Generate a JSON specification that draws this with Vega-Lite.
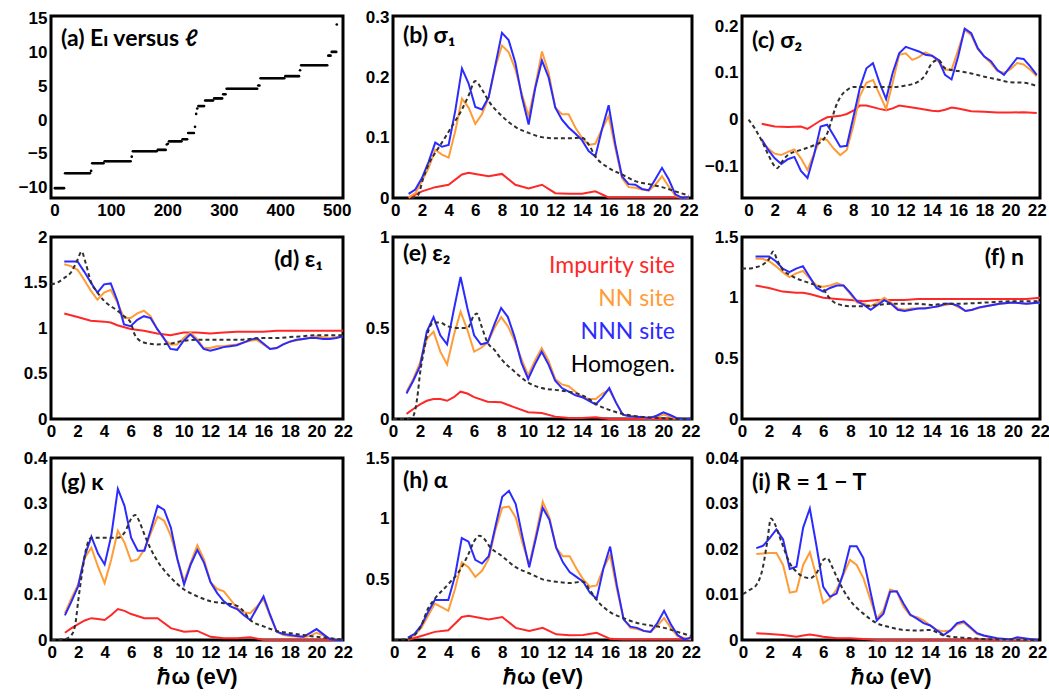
{
"$schema": "https://vega.github.io/schema/vega-lite/v6.json",
"background": "white",
"padding": {"left": 16, "top": 6, "right": 5, "bottom": 2},
"bounds": "flush",
"columns": 3,
"spacing": {"row": 39, "column": 50},
"config": {
  "view": {"stroke": "black", "strokeWidth": 3},
  "axis": {"labelFont": "Liberation Sans", "labelFontSize": 17, "labelFontWeight": "bold", "labelColor": "black", "domain": false, "ticks": false, "grid": false, "labelPadding": 4, "labelFlush": false, "labelOverlap": false, "titleFont": "Liberation Sans", "titleFontSize": 22, "titleFontWeight": "bold", "titleColor": "black", "titlePadding": 6},
  "title": {"font": "Lato, DejaVu Sans", "fontSize": 23, "fontWeight": "bold", "color": "black", "anchor": "start", "frame": "group", "baseline": "top", "dx": 10},
  "line": {"strokeWidth": 2}
},
"resolve": {"scale": {"color": "independent"}, "legend": {"color": "independent"}},
"datasets": {
"a": [{"l":1,"E":-10.05},{"l":3,"E":-10.05},{"l":5,"E":-10.05},{"l":7,"E":-10.05},{"l":9,"E":-10.05},{"l":11,"E":-10.05},{"l":13,"E":-10.05},{"l":15,"E":-10.05},{"l":17,"E":-10.05},
{"l":19,"E":-7.85},{"l":21,"E":-7.85},{"l":23,"E":-7.85},{"l":25,"E":-7.85},{"l":27,"E":-7.85},{"l":29,"E":-7.85},{"l":31,"E":-7.85},{"l":33,"E":-7.85},{"l":35,"E":-7.85},{"l":37,"E":-7.85},{"l":39,"E":-7.85},{"l":41,"E":-7.85},{"l":43,"E":-7.85},{"l":45,"E":-7.85},{"l":47,"E":-7.85},{"l":49,"E":-7.85},{"l":51,"E":-7.85},{"l":53,"E":-7.85},{"l":55,"E":-7.85},{"l":57,"E":-7.85},{"l":59,"E":-7.85},{"l":61,"E":-7.85},{"l":63,"E":-7.85},{"l":65,"E":-7.5},
{"l":67,"E":-6.37},{"l":69,"E":-6.37},{"l":71,"E":-6.37},{"l":73,"E":-6.37},{"l":75,"E":-6.37},{"l":77,"E":-6.37},{"l":79,"E":-6.37},{"l":81,"E":-6.37},{"l":83,"E":-6.37},{"l":85,"E":-6.37},{"l":87,"E":-6.37},
{"l":89,"E":-6.08},{"l":91,"E":-6.08},{"l":93,"E":-6.08},{"l":95,"E":-6.08},{"l":97,"E":-6.08},{"l":99,"E":-6.08},{"l":101,"E":-6.08},{"l":103,"E":-6.08},{"l":105,"E":-6.08},{"l":107,"E":-6.08},{"l":109,"E":-6.08},{"l":111,"E":-6.08},{"l":113,"E":-6.08},{"l":115,"E":-6.08},{"l":117,"E":-6.08},{"l":119,"E":-6.08},{"l":121,"E":-6.08},{"l":123,"E":-6.08},{"l":125,"E":-6.08},{"l":127,"E":-6.08},{"l":129,"E":-6.08},{"l":131,"E":-6.08},{"l":133,"E":-6.08},{"l":135,"E":-6.08},{"l":137,"E":-5.4},
{"l":139,"E":-4.61},{"l":141,"E":-4.61},{"l":143,"E":-4.61},{"l":145,"E":-4.61},{"l":147,"E":-4.61},{"l":149,"E":-4.61},{"l":151,"E":-4.61},{"l":153,"E":-4.61},{"l":155,"E":-4.61},{"l":157,"E":-4.61},{"l":159,"E":-4.61},{"l":161,"E":-4.61},{"l":163,"E":-4.61},{"l":165,"E":-4.61},{"l":167,"E":-4.61},{"l":169,"E":-4.61},{"l":171,"E":-4.61},{"l":173,"E":-4.61},{"l":175,"E":-4.61},{"l":177,"E":-4.61},{"l":179,"E":-4.61},{"l":181,"E":-4.61},
{"l":183,"E":-4.41},{"l":185,"E":-4.41},{"l":187,"E":-4.41},{"l":189,"E":-4.41},{"l":191,"E":-4.41},{"l":193,"E":-4.41},{"l":195,"E":-4.41},{"l":197,"E":-4.41},{"l":199,"E":-3.6},{"l":201,"E":-3.5},
{"l":203,"E":-3.14},{"l":205,"E":-3.14},{"l":207,"E":-3.14},{"l":209,"E":-3.14},{"l":211,"E":-3.14},{"l":213,"E":-3.14},{"l":215,"E":-3.14},{"l":217,"E":-3.14},{"l":219,"E":-3.14},{"l":221,"E":-3.14},{"l":223,"E":-3.14},{"l":225,"E":-3.14},
{"l":227,"E":-2.84},{"l":229,"E":-2.84},{"l":231,"E":-2.84},{"l":233,"E":-2.84},{"l":235,"E":-2.84},
{"l":237,"E":-1.91},{"l":239,"E":-1.91},{"l":241,"E":-1.91},{"l":243,"E":-1.91},{"l":245,"E":-1.91},{"l":247,"E":-1.91},{"l":249,"E":-1.0},{"l":251,"E":0.9},{"l":253,"E":1.7},
{"l":255,"E":2.06},{"l":257,"E":2.06},{"l":259,"E":2.06},{"l":261,"E":2.06},{"l":263,"E":2.06},{"l":265,"E":2.06},
{"l":267,"E":2.89},{"l":269,"E":2.89},{"l":271,"E":2.89},{"l":273,"E":2.89},{"l":275,"E":2.89},{"l":277,"E":2.89},{"l":279,"E":2.89},{"l":281,"E":2.89},
{"l":283,"E":3.19},{"l":285,"E":3.19},{"l":287,"E":3.19},{"l":289,"E":3.19},{"l":291,"E":3.19},{"l":293,"E":3.19},{"l":295,"E":3.19},{"l":297,"E":3.19},
{"l":299,"E":3.8},{"l":301,"E":3.8},{"l":303,"E":3.8},
{"l":305,"E":4.61},{"l":307,"E":4.61},{"l":309,"E":4.61},{"l":311,"E":4.61},{"l":313,"E":4.61},{"l":315,"E":4.61},{"l":317,"E":4.61},{"l":319,"E":4.61},{"l":321,"E":4.61},{"l":323,"E":4.61},{"l":325,"E":4.61},{"l":327,"E":4.61},{"l":329,"E":4.61},{"l":331,"E":4.61},{"l":333,"E":4.61},{"l":335,"E":4.61},{"l":337,"E":4.61},{"l":339,"E":4.61},{"l":341,"E":4.61},{"l":343,"E":4.61},{"l":345,"E":4.61},{"l":347,"E":4.61},{"l":349,"E":4.61},{"l":351,"E":4.61},{"l":353,"E":4.61},{"l":355,"E":4.61},{"l":357,"E":4.61},{"l":359,"E":4.61},
{"l":361,"E":5.1},{"l":363,"E":5.1},
{"l":365,"E":6.17},{"l":367,"E":6.17},{"l":369,"E":6.17},{"l":371,"E":6.17},{"l":373,"E":6.17},{"l":375,"E":6.17},{"l":377,"E":6.17},{"l":379,"E":6.17},{"l":381,"E":6.17},{"l":383,"E":6.17},{"l":385,"E":6.17},{"l":387,"E":6.17},{"l":389,"E":6.17},{"l":391,"E":6.17},{"l":393,"E":6.17},{"l":395,"E":6.17},{"l":397,"E":6.17},{"l":399,"E":6.17},{"l":401,"E":6.17},{"l":403,"E":6.17},{"l":405,"E":6.17},{"l":407,"E":6.17},
{"l":409,"E":6.47},{"l":411,"E":6.47},{"l":413,"E":6.47},{"l":415,"E":6.47},{"l":417,"E":6.47},{"l":419,"E":6.47},{"l":421,"E":6.47},{"l":423,"E":6.47},{"l":425,"E":6.47},{"l":427,"E":6.47},{"l":429,"E":6.47},{"l":431,"E":6.47},{"l":433,"E":6.47},{"l":435,"E":7.35},
{"l":437,"E":8.09},{"l":439,"E":8.09},{"l":441,"E":8.09},{"l":443,"E":8.09},{"l":445,"E":8.09},{"l":447,"E":8.09},{"l":449,"E":8.09},{"l":451,"E":8.09},{"l":453,"E":8.09},{"l":455,"E":8.09},{"l":457,"E":8.09},{"l":459,"E":8.09},{"l":461,"E":8.09},{"l":463,"E":8.09},{"l":465,"E":8.09},{"l":467,"E":8.09},{"l":469,"E":8.09},{"l":471,"E":8.09},{"l":473,"E":8.09},{"l":475,"E":8.09},{"l":477,"E":8.09},{"l":479,"E":8.09},{"l":481,"E":8.09},{"l":483,"E":8.09},
{"l":485,"E":9.5},{"l":487,"E":9.5},{"l":489,"E":9.5},{"l":491,"E":10.05},{"l":493,"E":10.05},{"l":495,"E":10.05},{"l":497,"E":10.05},{"l":499,"E":10.05},{"l":500,"E":14.1}],
"b_b": [{"x":1,"y":0.007},{"x":1.5,"y":0.014},{"x":2,"y":0.033},{"x":2.5,"y":0.06},{"x":3,"y":0.092},{"x":3.5,"y":0.085},{"x":4,"y":0.088},{"x":4.5,"y":0.145},{"x":5,"y":0.215},{"x":5.5,"y":0.19},{"x":6,"y":0.151},{"x":6.5,"y":0.147},{"x":7,"y":0.167},{"x":7.5,"y":0.22},{"x":8,"y":0.274},{"x":8.5,"y":0.262},{"x":9,"y":0.225},{"x":9.5,"y":0.167},{"x":10,"y":0.122},{"x":10.5,"y":0.183},{"x":11,"y":0.228},{"x":11.5,"y":0.2},{"x":12,"y":0.15},{"x":12.5,"y":0.13},{"x":13,"y":0.117},{"x":13.5,"y":0.107},{"x":14,"y":0.096},{"x":14.5,"y":0.078},{"x":15,"y":0.069},{"x":15.5,"y":0.114},{"x":16,"y":0.154},{"x":16.5,"y":0.089},{"x":17,"y":0.036},{"x":17.5,"y":0.023},{"x":18,"y":0.022},{"x":18.5,"y":0.015},{"x":19,"y":0.013},{"x":19.5,"y":0.031},{"x":20,"y":0.05},{"x":20.5,"y":0.031},{"x":21,"y":0.006},{"x":21.5,"y":0.0},{"x":22,"y":0.001}],
"b_o": [{"x":1,"y":0.001},{"x":1.5,"y":0.008},{"x":2,"y":0.028},{"x":2.5,"y":0.05},{"x":3,"y":0.08},{"x":3.5,"y":0.072},{"x":4,"y":0.067},{"x":4.5,"y":0.111},{"x":5,"y":0.165},{"x":5.5,"y":0.15},{"x":6,"y":0.123},{"x":6.5,"y":0.139},{"x":7,"y":0.167},{"x":7.5,"y":0.217},{"x":8,"y":0.253},{"x":8.5,"y":0.242},{"x":9,"y":0.214},{"x":9.5,"y":0.172},{"x":10,"y":0.136},{"x":10.5,"y":0.186},{"x":11,"y":0.243},{"x":11.5,"y":0.208},{"x":12,"y":0.15},{"x":12.5,"y":0.139},{"x":13,"y":0.139},{"x":13.5,"y":0.117},{"x":14,"y":0.1},{"x":14.5,"y":0.088},{"x":15,"y":0.09},{"x":15.5,"y":0.114},{"x":16,"y":0.136},{"x":16.5,"y":0.083},{"x":17,"y":0.033},{"x":17.5,"y":0.018},{"x":18,"y":0.017},{"x":18.5,"y":0.014},{"x":19,"y":0.012},{"x":19.5,"y":0.022},{"x":20,"y":0.036},{"x":20.5,"y":0.019},{"x":21,"y":0.004},{"x":21.5,"y":0.0},{"x":22,"y":0.0}],
"b_r": [{"x":1,"y":0.0},{"x":2,"y":0.011},{"x":3,"y":0.018},{"x":4,"y":0.022},{"x":5,"y":0.039},{"x":5.5,"y":0.042},{"x":6,"y":0.04},{"x":7,"y":0.036},{"x":8,"y":0.04},{"x":9,"y":0.022},{"x":10,"y":0.016},{"x":11,"y":0.022},{"x":12,"y":0.008},{"x":13,"y":0.007},{"x":14,"y":0.007},{"x":15,"y":0.011},{"x":16,"y":0.001},{"x":17,"y":0.001},{"x":18,"y":0.001},{"x":19,"y":0.001},{"x":20,"y":0.001},{"x":21,"y":0.001},{"x":22,"y":0.001}],
"b_h": [{"x":1.2,"y":0.0},{"x":1.7,"y":0.005},{"x":2.1,"y":0.033},{"x":2.5,"y":0.056},{"x":3,"y":0.075},{"x":3.5,"y":0.092},{"x":4,"y":0.11},{"x":4.5,"y":0.128},{"x":5,"y":0.147},{"x":5.5,"y":0.17},{"x":6,"y":0.194},{"x":6.5,"y":0.18},{"x":7,"y":0.161},{"x":8,"y":0.136},{"x":9,"y":0.118},{"x":10,"y":0.108},{"x":11,"y":0.101},{"x":12,"y":0.099},{"x":13,"y":0.099},{"x":14,"y":0.1},{"x":14.5,"y":0.089},{"x":15,"y":0.069},{"x":16,"y":0.05},{"x":17,"y":0.039},{"x":18,"y":0.028},{"x":19,"y":0.023},{"x":20,"y":0.018},{"x":21,"y":0.011},{"x":22,"y":0.004}],
"c_b": [{"x":1,"y":-0.042},{"x":1.5,"y":-0.065},{"x":2,"y":-0.083},{"x":2.5,"y":-0.095},{"x":3,"y":-0.085},{"x":3.5,"y":-0.08},{"x":4,"y":-0.11},{"x":4.5,"y":-0.125},{"x":5,"y":-0.076},{"x":5.5,"y":-0.015},{"x":6,"y":-0.011},{"x":6.5,"y":-0.034},{"x":7,"y":-0.058},{"x":7.5,"y":-0.056},{"x":8,"y":0.005},{"x":8.5,"y":0.068},{"x":9,"y":0.11},{"x":9.5,"y":0.121},{"x":10,"y":0.079},{"x":10.5,"y":0.044},{"x":11,"y":0.1},{"x":11.5,"y":0.142},{"x":12,"y":0.156},{"x":12.5,"y":0.151},{"x":13,"y":0.146},{"x":13.5,"y":0.139},{"x":14,"y":0.137},{"x":14.5,"y":0.128},{"x":15,"y":0.096},{"x":15.5,"y":0.086},{"x":16,"y":0.135},{"x":16.5,"y":0.195},{"x":17,"y":0.185},{"x":17.5,"y":0.153},{"x":18,"y":0.135},{"x":18.5,"y":0.125},{"x":19,"y":0.106},{"x":19.5,"y":0.096},{"x":20,"y":0.114},{"x":20.5,"y":0.132},{"x":21,"y":0.13},{"x":21.5,"y":0.114},{"x":22,"y":0.096}],
"c_o": [{"x":1,"y":-0.046},{"x":1.5,"y":-0.062},{"x":2,"y":-0.073},{"x":2.5,"y":-0.076},{"x":3,"y":-0.069},{"x":3.5,"y":-0.064},{"x":4,"y":-0.083},{"x":4.5,"y":-0.108},{"x":5,"y":-0.073},{"x":5.5,"y":-0.041},{"x":6,"y":-0.044},{"x":6.5,"y":-0.062},{"x":7,"y":-0.076},{"x":7.5,"y":-0.065},{"x":8,"y":-0.013},{"x":8.5,"y":0.051},{"x":9,"y":0.079},{"x":9.5,"y":0.085},{"x":10,"y":0.054},{"x":10.5,"y":0.023},{"x":11,"y":0.079},{"x":11.5,"y":0.139},{"x":12,"y":0.142},{"x":12.5,"y":0.128},{"x":13,"y":0.134},{"x":13.5,"y":0.144},{"x":14,"y":0.137},{"x":14.5,"y":0.125},{"x":15,"y":0.107},{"x":15.5,"y":0.107},{"x":16,"y":0.149},{"x":16.5,"y":0.192},{"x":17,"y":0.181},{"x":17.5,"y":0.151},{"x":18,"y":0.135},{"x":18.5,"y":0.121},{"x":19,"y":0.104},{"x":19.5,"y":0.1},{"x":20,"y":0.108},{"x":20.5,"y":0.121},{"x":21,"y":0.118},{"x":21.5,"y":0.107},{"x":22,"y":0.093}],
"c_r": [{"x":1,"y":-0.009},{"x":2,"y":-0.015},{"x":3,"y":-0.016},{"x":4,"y":-0.015},{"x":4.5,"y":-0.02},{"x":5,"y":-0.011},{"x":5.5,"y":-0.002},{"x":6,"y":0.005},{"x":7,"y":0.008},{"x":7.5,"y":0.012},{"x":8,"y":0.019},{"x":8.5,"y":0.03},{"x":9,"y":0.03},{"x":10,"y":0.023},{"x":10.5,"y":0.02},{"x":11,"y":0.024},{"x":11.5,"y":0.03},{"x":12,"y":0.028},{"x":13,"y":0.024},{"x":14,"y":0.019},{"x":14.5,"y":0.018},{"x":15,"y":0.021},{"x":15.5,"y":0.026},{"x":16,"y":0.024},{"x":17,"y":0.018},{"x":18,"y":0.017},{"x":19,"y":0.015},{"x":20,"y":0.015},{"x":21,"y":0.016},{"x":22,"y":0.014}],
"c_h": [{"x":0,"y":0.0},{"x":0.5,"y":-0.02},{"x":1,"y":-0.045},{"x":1.5,"y":-0.075},{"x":2,"y":-0.1},{"x":2.2,"y":-0.104},{"x":2.5,"y":-0.092},{"x":3,"y":-0.076},{"x":4,"y":-0.065},{"x":5,"y":-0.055},{"x":5.5,"y":-0.048},{"x":6,"y":-0.03},{"x":6.3,"y":-0.005},{"x":6.6,"y":0.023},{"x":7,"y":0.048},{"x":7.5,"y":0.063},{"x":8,"y":0.07},{"x":9,"y":0.07},{"x":10,"y":0.07},{"x":11,"y":0.07},{"x":12,"y":0.073},{"x":13,"y":0.082},{"x":13.5,"y":0.096},{"x":14,"y":0.121},{"x":14.5,"y":0.128},{"x":15,"y":0.11},{"x":16,"y":0.104},{"x":17,"y":0.099},{"x":18,"y":0.092},{"x":19,"y":0.086},{"x":20,"y":0.08},{"x":21,"y":0.079},{"x":22,"y":0.072}],
"d_b": [{"x":1,"y":1.73},{"x":1.5,"y":1.73},{"x":2,"y":1.73},{"x":2.5,"y":1.62},{"x":3,"y":1.5},{"x":3.5,"y":1.39},{"x":4,"y":1.48},{"x":4.5,"y":1.49},{"x":5,"y":1.3},{"x":5.5,"y":1.04},{"x":6,"y":1.02},{"x":6.5,"y":1.09},{"x":7,"y":1.13},{"x":7.5,"y":1.11},{"x":8,"y":0.99},{"x":8.5,"y":0.89},{"x":9,"y":0.77},{"x":9.5,"y":0.76},{"x":10,"y":0.86},{"x":10.5,"y":0.93},{"x":11,"y":0.86},{"x":11.5,"y":0.77},{"x":12,"y":0.75},{"x":12.5,"y":0.77},{"x":13,"y":0.79},{"x":13.5,"y":0.8},{"x":14,"y":0.81},{"x":14.5,"y":0.84},{"x":15,"y":0.87},{"x":15.5,"y":0.89},{"x":16,"y":0.83},{"x":16.5,"y":0.77},{"x":17,"y":0.78},{"x":17.5,"y":0.82},{"x":18,"y":0.85},{"x":18.5,"y":0.87},{"x":19,"y":0.88},{"x":19.5,"y":0.89},{"x":20,"y":0.89},{"x":20.5,"y":0.88},{"x":21,"y":0.88},{"x":21.5,"y":0.89},{"x":22,"y":0.91}],
"d_o": [{"x":1,"y":1.7},{"x":1.5,"y":1.68},{"x":2,"y":1.64},{"x":2.5,"y":1.53},{"x":3,"y":1.41},{"x":3.5,"y":1.31},{"x":4,"y":1.39},{"x":4.5,"y":1.42},{"x":5,"y":1.28},{"x":5.5,"y":1.11},{"x":6,"y":1.11},{"x":6.5,"y":1.16},{"x":7,"y":1.19},{"x":7.5,"y":1.13},{"x":8,"y":0.99},{"x":8.5,"y":0.88},{"x":9,"y":0.82},{"x":9.5,"y":0.82},{"x":10,"y":0.89},{"x":10.5,"y":0.95},{"x":11,"y":0.88},{"x":11.5,"y":0.78},{"x":12,"y":0.78},{"x":12.5,"y":0.8},{"x":13,"y":0.8},{"x":13.5,"y":0.81},{"x":14,"y":0.82},{"x":14.5,"y":0.84},{"x":15,"y":0.86},{"x":15.5,"y":0.87},{"x":16,"y":0.82},{"x":16.5,"y":0.77},{"x":17,"y":0.78},{"x":17.5,"y":0.82},{"x":18,"y":0.85},{"x":19,"y":0.88},{"x":20,"y":0.91},{"x":21,"y":0.89},{"x":22,"y":0.91}],
"d_r": [{"x":1,"y":1.16},{"x":2,"y":1.12},{"x":3,"y":1.08},{"x":4,"y":1.07},{"x":4.5,"y":1.06},{"x":5,"y":1.03},{"x":6,"y":0.99},{"x":7,"y":0.97},{"x":8,"y":0.94},{"x":9,"y":0.92},{"x":10,"y":0.95},{"x":11,"y":0.95},{"x":12,"y":0.94},{"x":13,"y":0.95},{"x":14,"y":0.96},{"x":15,"y":0.96},{"x":16,"y":0.96},{"x":17,"y":0.97},{"x":18,"y":0.97},{"x":19,"y":0.97},{"x":20,"y":0.97},{"x":21,"y":0.97},{"x":22,"y":0.97}],
"d_h": [{"x":0,"y":1.48},{"x":0.5,"y":1.5},{"x":1,"y":1.55},{"x":1.5,"y":1.61},{"x":2,"y":1.75},{"x":2.3,"y":1.84},{"x":2.6,"y":1.72},{"x":3,"y":1.51},{"x":3.5,"y":1.39},{"x":4,"y":1.3},{"x":5,"y":1.19},{"x":5.5,"y":1.13},{"x":6,"y":1.06},{"x":6.3,"y":0.93},{"x":6.7,"y":0.86},{"x":7,"y":0.84},{"x":8,"y":0.82},{"x":9,"y":0.83},{"x":10,"y":0.86},{"x":11,"y":0.87},{"x":12,"y":0.87},{"x":13,"y":0.87},{"x":14,"y":0.87},{"x":15,"y":0.88},{"x":16,"y":0.89},{"x":17,"y":0.89},{"x":18,"y":0.9},{"x":19,"y":0.91},{"x":20,"y":0.92},{"x":21,"y":0.92},{"x":22,"y":0.92}],
"e_b": [{"x":1,"y":0.14},{"x":1.5,"y":0.21},{"x":2,"y":0.29},{"x":2.5,"y":0.48},{"x":3,"y":0.56},{"x":3.5,"y":0.46},{"x":4,"y":0.41},{"x":4.5,"y":0.6},{"x":5,"y":0.78},{"x":5.5,"y":0.61},{"x":6,"y":0.46},{"x":6.5,"y":0.41},{"x":7,"y":0.42},{"x":7.5,"y":0.52},{"x":8,"y":0.61},{"x":8.5,"y":0.56},{"x":9,"y":0.45},{"x":9.5,"y":0.31},{"x":10,"y":0.22},{"x":10.5,"y":0.3},{"x":11,"y":0.37},{"x":11.5,"y":0.3},{"x":12,"y":0.21},{"x":12.5,"y":0.17},{"x":13,"y":0.15},{"x":13.5,"y":0.13},{"x":14,"y":0.12},{"x":14.5,"y":0.1},{"x":15,"y":0.08},{"x":15.5,"y":0.12},{"x":16,"y":0.17},{"x":16.5,"y":0.09},{"x":17,"y":0.024},{"x":17.5,"y":0.015},{"x":18,"y":0.013},{"x":18.5,"y":0.01},{"x":19,"y":0.006},{"x":19.5,"y":0.018},{"x":20,"y":0.037},{"x":20.5,"y":0.022},{"x":21,"y":0.004},{"x":21.5,"y":0.0},{"x":22,"y":0.0}],
"e_o": [{"x":1,"y":0.15},{"x":1.5,"y":0.22},{"x":2,"y":0.31},{"x":2.5,"y":0.44},{"x":3,"y":0.48},{"x":3.5,"y":0.37},{"x":4,"y":0.3},{"x":4.5,"y":0.46},{"x":5,"y":0.59},{"x":5.5,"y":0.49},{"x":6,"y":0.37},{"x":6.5,"y":0.39},{"x":7,"y":0.42},{"x":7.5,"y":0.5},{"x":8,"y":0.56},{"x":8.5,"y":0.51},{"x":9,"y":0.43},{"x":9.5,"y":0.33},{"x":10,"y":0.24},{"x":10.5,"y":0.32},{"x":11,"y":0.39},{"x":11.5,"y":0.32},{"x":12,"y":0.22},{"x":12.5,"y":0.19},{"x":13,"y":0.18},{"x":13.5,"y":0.15},{"x":14,"y":0.12},{"x":14.5,"y":0.11},{"x":15,"y":0.11},{"x":15.5,"y":0.14},{"x":16,"y":0.16},{"x":16.5,"y":0.09},{"x":17,"y":0.024},{"x":17.5,"y":0.015},{"x":18,"y":0.013},{"x":19,"y":0.004},{"x":19.5,"y":0.01},{"x":20,"y":0.024},{"x":20.5,"y":0.013},{"x":21,"y":0.002},{"x":22,"y":0.0}],
"e_r": [{"x":1,"y":0.028},{"x":1.5,"y":0.055},{"x":2,"y":0.08},{"x":2.5,"y":0.1},{"x":3,"y":0.11},{"x":3.5,"y":0.11},{"x":4,"y":0.1},{"x":4.5,"y":0.12},{"x":5,"y":0.15},{"x":5.5,"y":0.14},{"x":6,"y":0.12},{"x":7,"y":0.095},{"x":8,"y":0.092},{"x":9,"y":0.064},{"x":10,"y":0.037},{"x":11,"y":0.033},{"x":12,"y":0.013},{"x":13,"y":0.006},{"x":14,"y":0.006},{"x":15,"y":0.009},{"x":16,"y":0.0},{"x":17,"y":0.0},{"x":18,"y":0.0},{"x":19,"y":0.0},{"x":20,"y":0.0},{"x":21,"y":0.0},{"x":22,"y":0.0}],
"e_h": [{"x":0,"y":0.0},{"x":1,"y":0.0},{"x":1.5,"y":0.018},{"x":1.8,"y":0.12},{"x":2,"y":0.25},{"x":2.3,"y":0.38},{"x":2.6,"y":0.48},{"x":3,"y":0.53},{"x":3.5,"y":0.53},{"x":4,"y":0.51},{"x":5,"y":0.5},{"x":5.5,"y":0.5},{"x":6,"y":0.57},{"x":6.2,"y":0.58},{"x":6.5,"y":0.52},{"x":7,"y":0.42},{"x":7.5,"y":0.38},{"x":8,"y":0.33},{"x":9,"y":0.26},{"x":10,"y":0.2},{"x":11,"y":0.17},{"x":12,"y":0.16},{"x":13,"y":0.15},{"x":14,"y":0.13},{"x":14.5,"y":0.11},{"x":15,"y":0.083},{"x":16,"y":0.05},{"x":17,"y":0.028},{"x":18,"y":0.015},{"x":19,"y":0.009},{"x":20,"y":0.004},{"x":21,"y":0.0},{"x":22,"y":0.0}],
"f_b": [{"x":1,"y":1.34},{"x":1.5,"y":1.34},{"x":2,"y":1.34},{"x":2.5,"y":1.3},{"x":3,"y":1.24},{"x":3.5,"y":1.21},{"x":4,"y":1.24},{"x":4.5,"y":1.26},{"x":5,"y":1.17},{"x":5.5,"y":1.08},{"x":6,"y":1.05},{"x":6.5,"y":1.08},{"x":7,"y":1.1},{"x":7.5,"y":1.1},{"x":8,"y":1.04},{"x":8.5,"y":0.97},{"x":9,"y":0.94},{"x":9.5,"y":0.9},{"x":10,"y":0.94},{"x":10.5,"y":0.98},{"x":11,"y":0.95},{"x":11.5,"y":0.9},{"x":12,"y":0.89},{"x":12.5,"y":0.9},{"x":13,"y":0.91},{"x":13.5,"y":0.91},{"x":14,"y":0.92},{"x":14.5,"y":0.93},{"x":15,"y":0.95},{"x":15.5,"y":0.95},{"x":16,"y":0.93},{"x":16.5,"y":0.89},{"x":17,"y":0.9},{"x":17.5,"y":0.92},{"x":18,"y":0.93},{"x":19,"y":0.95},{"x":20,"y":0.96},{"x":21,"y":0.95},{"x":22,"y":0.96}],
"f_o": [{"x":1,"y":1.32},{"x":1.5,"y":1.32},{"x":2,"y":1.3},{"x":2.5,"y":1.26},{"x":3,"y":1.21},{"x":3.5,"y":1.17},{"x":4,"y":1.2},{"x":4.5,"y":1.22},{"x":5,"y":1.16},{"x":5.5,"y":1.1},{"x":6,"y":1.09},{"x":6.5,"y":1.1},{"x":7,"y":1.12},{"x":7.5,"y":1.1},{"x":8,"y":1.03},{"x":8.5,"y":0.96},{"x":9,"y":0.95},{"x":9.5,"y":0.93},{"x":10,"y":0.96},{"x":10.5,"y":1.0},{"x":11,"y":0.96},{"x":11.5,"y":0.91},{"x":12,"y":0.9},{"x":12.5,"y":0.91},{"x":13,"y":0.91},{"x":14,"y":0.92},{"x":15,"y":0.94},{"x":15.5,"y":0.95},{"x":16,"y":0.92},{"x":16.5,"y":0.89},{"x":17,"y":0.9},{"x":18,"y":0.93},{"x":19,"y":0.95},{"x":20,"y":0.96},{"x":21,"y":0.95},{"x":22,"y":0.96}],
"f_r": [{"x":1,"y":1.1},{"x":2,"y":1.08},{"x":3,"y":1.05},{"x":4,"y":1.04},{"x":4.5,"y":1.04},{"x":5,"y":1.03},{"x":6,"y":1.0},{"x":7,"y":0.99},{"x":8,"y":0.98},{"x":9,"y":0.97},{"x":10,"y":0.98},{"x":11,"y":0.98},{"x":12,"y":0.98},{"x":13,"y":0.99},{"x":14,"y":0.99},{"x":15,"y":0.99},{"x":16,"y":0.99},{"x":17,"y":0.99},{"x":18,"y":0.99},{"x":19,"y":0.99},{"x":20,"y":0.99},{"x":21,"y":0.99},{"x":22,"y":1.0}],
"f_h": [{"x":0,"y":1.24},{"x":0.5,"y":1.24},{"x":1,"y":1.25},{"x":1.5,"y":1.27},{"x":2,"y":1.32},{"x":2.3,"y":1.38},{"x":2.6,"y":1.31},{"x":3,"y":1.23},{"x":3.5,"y":1.19},{"x":4,"y":1.16},{"x":5,"y":1.12},{"x":5.5,"y":1.1},{"x":6,"y":1.07},{"x":6.3,"y":1.02},{"x":6.7,"y":0.97},{"x":7,"y":0.95},{"x":8,"y":0.93},{"x":9,"y":0.93},{"x":10,"y":0.94},{"x":11,"y":0.95},{"x":12,"y":0.95},{"x":13,"y":0.95},{"x":14,"y":0.94},{"x":15,"y":0.95},{"x":16,"y":0.95},{"x":18,"y":0.96},{"x":20,"y":0.97},{"x":22,"y":0.97}],
"g_b": [{"x":1,"y":0.054},{"x":1.5,"y":0.085},{"x":2,"y":0.118},{"x":2.5,"y":0.185},{"x":3,"y":0.227},{"x":3.5,"y":0.19},{"x":4,"y":0.166},{"x":4.5,"y":0.229},{"x":5,"y":0.332},{"x":5.5,"y":0.295},{"x":6,"y":0.225},{"x":6.5,"y":0.196},{"x":7,"y":0.196},{"x":7.5,"y":0.244},{"x":8,"y":0.295},{"x":8.5,"y":0.286},{"x":9,"y":0.247},{"x":9.5,"y":0.177},{"x":10,"y":0.122},{"x":10.5,"y":0.166},{"x":11,"y":0.198},{"x":11.5,"y":0.17},{"x":12,"y":0.127},{"x":12.5,"y":0.103},{"x":13,"y":0.085},{"x":13.5,"y":0.074},{"x":14,"y":0.068},{"x":14.5,"y":0.055},{"x":15,"y":0.044},{"x":15.5,"y":0.07},{"x":16,"y":0.096},{"x":16.5,"y":0.055},{"x":17,"y":0.018},{"x":17.5,"y":0.013},{"x":18,"y":0.011},{"x":18.5,"y":0.009},{"x":19,"y":0.007},{"x":19.5,"y":0.015},{"x":20,"y":0.024},{"x":20.5,"y":0.013},{"x":21,"y":0.002},{"x":21.5,"y":0.0},{"x":22,"y":0.0}],
"g_o": [{"x":1,"y":0.059},{"x":1.5,"y":0.092},{"x":2,"y":0.122},{"x":2.5,"y":0.181},{"x":3,"y":0.203},{"x":3.5,"y":0.161},{"x":4,"y":0.125},{"x":4.5,"y":0.177},{"x":5,"y":0.24},{"x":5.5,"y":0.214},{"x":6,"y":0.173},{"x":6.5,"y":0.177},{"x":7,"y":0.199},{"x":7.5,"y":0.236},{"x":8,"y":0.271},{"x":8.5,"y":0.262},{"x":9,"y":0.229},{"x":9.5,"y":0.177},{"x":10,"y":0.129},{"x":10.5,"y":0.17},{"x":11,"y":0.208},{"x":11.5,"y":0.177},{"x":12,"y":0.127},{"x":12.5,"y":0.112},{"x":13,"y":0.107},{"x":13.5,"y":0.089},{"x":14,"y":0.07},{"x":14.5,"y":0.061},{"x":15,"y":0.059},{"x":15.5,"y":0.074},{"x":16,"y":0.09},{"x":16.5,"y":0.052},{"x":17,"y":0.018},{"x":17.5,"y":0.011},{"x":18,"y":0.009},{"x":19,"y":0.006},{"x":19.5,"y":0.009},{"x":20,"y":0.016},{"x":20.5,"y":0.01},{"x":21,"y":0.003},{"x":22,"y":0.0}],
"g_r": [{"x":1,"y":0.016},{"x":1.5,"y":0.026},{"x":2,"y":0.035},{"x":2.5,"y":0.043},{"x":3,"y":0.048},{"x":3.5,"y":0.046},{"x":4,"y":0.044},{"x":4.5,"y":0.055},{"x":5,"y":0.068},{"x":5.5,"y":0.064},{"x":6,"y":0.057},{"x":7,"y":0.048},{"x":8,"y":0.048},{"x":9,"y":0.026},{"x":10,"y":0.018},{"x":11,"y":0.02},{"x":12,"y":0.007},{"x":13,"y":0.004},{"x":14,"y":0.004},{"x":15,"y":0.006},{"x":16,"y":0.0},{"x":17,"y":0.0},{"x":18,"y":0.0},{"x":19,"y":0.0},{"x":20,"y":0.0},{"x":21,"y":0.0},{"x":22,"y":0.0}],
"g_h": [{"x":0,"y":0.0},{"x":1,"y":0.002},{"x":1.5,"y":0.011},{"x":1.8,"y":0.037},{"x":2,"y":0.085},{"x":2.3,"y":0.148},{"x":2.6,"y":0.2},{"x":3,"y":0.225},{"x":3.5,"y":0.225},{"x":4,"y":0.225},{"x":5,"y":0.225},{"x":5.5,"y":0.236},{"x":6,"y":0.266},{"x":6.3,"y":0.275},{"x":6.6,"y":0.262},{"x":7,"y":0.232},{"x":7.5,"y":0.199},{"x":8,"y":0.173},{"x":9,"y":0.137},{"x":10,"y":0.111},{"x":11,"y":0.096},{"x":12,"y":0.085},{"x":13,"y":0.081},{"x":14,"y":0.075},{"x":14.5,"y":0.063},{"x":15,"y":0.044},{"x":16,"y":0.03},{"x":17,"y":0.02},{"x":18,"y":0.015},{"x":19,"y":0.011},{"x":20,"y":0.007},{"x":21,"y":0.004},{"x":22,"y":0.001}],
"h_b": [{"x":1,"y":0.02},{"x":1.5,"y":0.05},{"x":2,"y":0.12},{"x":2.5,"y":0.23},{"x":3,"y":0.33},{"x":3.5,"y":0.33},{"x":4,"y":0.33},{"x":4.5,"y":0.53},{"x":5,"y":0.84},{"x":5.5,"y":0.81},{"x":6,"y":0.66},{"x":6.5,"y":0.63},{"x":7,"y":0.69},{"x":7.5,"y":0.94},{"x":8,"y":1.18},{"x":8.5,"y":1.23},{"x":9,"y":1.12},{"x":9.5,"y":0.85},{"x":10,"y":0.6},{"x":10.5,"y":0.84},{"x":11,"y":1.09},{"x":11.5,"y":0.99},{"x":12,"y":0.76},{"x":12.5,"y":0.64},{"x":13,"y":0.56},{"x":13.5,"y":0.52},{"x":14,"y":0.48},{"x":14.5,"y":0.39},{"x":15,"y":0.34},{"x":15.5,"y":0.59},{"x":16,"y":0.77},{"x":16.5,"y":0.45},{"x":17,"y":0.17},{"x":17.5,"y":0.11},{"x":18,"y":0.1},{"x":18.5,"y":0.075},{"x":19,"y":0.067},{"x":19.5,"y":0.14},{"x":20,"y":0.24},{"x":20.5,"y":0.13},{"x":21,"y":0.04},{"x":21.5,"y":0.005},{"x":22,"y":0.02}],
"h_o": [{"x":1,"y":0.01},{"x":1.5,"y":0.04},{"x":2,"y":0.1},{"x":2.5,"y":0.2},{"x":3,"y":0.3},{"x":3.5,"y":0.27},{"x":4,"y":0.24},{"x":4.5,"y":0.42},{"x":5,"y":0.64},{"x":5.5,"y":0.6},{"x":6,"y":0.52},{"x":6.5,"y":0.57},{"x":7,"y":0.67},{"x":7.5,"y":0.91},{"x":8,"y":1.09},{"x":8.5,"y":1.1},{"x":9,"y":1.01},{"x":9.5,"y":0.8},{"x":10,"y":0.62},{"x":10.5,"y":0.87},{"x":11,"y":1.14},{"x":11.5,"y":1.01},{"x":12,"y":0.76},{"x":12.5,"y":0.69},{"x":13,"y":0.69},{"x":13.5,"y":0.59},{"x":14,"y":0.5},{"x":14.5,"y":0.44},{"x":15,"y":0.45},{"x":15.5,"y":0.59},{"x":16,"y":0.7},{"x":16.5,"y":0.42},{"x":17,"y":0.17},{"x":17.5,"y":0.1},{"x":18,"y":0.09},{"x":18.5,"y":0.075},{"x":19,"y":0.067},{"x":19.5,"y":0.12},{"x":20,"y":0.18},{"x":20.5,"y":0.1},{"x":21,"y":0.03},{"x":22,"y":0.005}],
"h_r": [{"x":1,"y":0.0},{"x":2,"y":0.033},{"x":3,"y":0.067},{"x":4,"y":0.08},{"x":5,"y":0.19},{"x":5.5,"y":0.2},{"x":6,"y":0.19},{"x":7,"y":0.17},{"x":8,"y":0.19},{"x":9,"y":0.1},{"x":10,"y":0.075},{"x":11,"y":0.1},{"x":12,"y":0.047},{"x":13,"y":0.039},{"x":14,"y":0.042},{"x":15,"y":0.06},{"x":16,"y":0.01},{"x":17,"y":0.005},{"x":18,"y":0.005},{"x":19,"y":0.005},{"x":20,"y":0.005},{"x":21,"y":0.005},{"x":22,"y":0.005}],
"h_h": [{"x":0,"y":0.0},{"x":1,"y":0.01},{"x":2,"y":0.12},{"x":2.5,"y":0.26},{"x":3,"y":0.34},{"x":4,"y":0.46},{"x":5,"y":0.6},{"x":5.5,"y":0.71},{"x":6,"y":0.83},{"x":6.3,"y":0.86},{"x":6.7,"y":0.83},{"x":7,"y":0.78},{"x":8,"y":0.69},{"x":9,"y":0.6},{"x":10,"y":0.55},{"x":11,"y":0.5},{"x":12,"y":0.48},{"x":13,"y":0.47},{"x":14,"y":0.48},{"x":14.5,"y":0.41},{"x":15,"y":0.33},{"x":16,"y":0.23},{"x":17,"y":0.18},{"x":18,"y":0.14},{"x":19,"y":0.12},{"x":20,"y":0.1},{"x":21,"y":0.067},{"x":22,"y":0.033}],
"i_b": [{"x":1,"y":0.0202},{"x":1.5,"y":0.0207},{"x":2,"y":0.0224},{"x":2.5,"y":0.0243},{"x":3,"y":0.0221},{"x":3.5,"y":0.0156},{"x":4,"y":0.0161},{"x":4.5,"y":0.0247},{"x":5,"y":0.0289},{"x":5.5,"y":0.0206},{"x":6,"y":0.0117},{"x":6.5,"y":0.0095},{"x":7,"y":0.0102},{"x":7.5,"y":0.0147},{"x":8,"y":0.0206},{"x":8.5,"y":0.0206},{"x":9,"y":0.018},{"x":9.5,"y":0.011},{"x":10,"y":0.0043},{"x":10.5,"y":0.0058},{"x":11,"y":0.0106},{"x":11.5,"y":0.0107},{"x":12,"y":0.008},{"x":12.5,"y":0.0056},{"x":13,"y":0.0047},{"x":13.5,"y":0.0037},{"x":14,"y":0.0032},{"x":14.5,"y":0.0021},{"x":15,"y":0.0011},{"x":15.5,"y":0.0021},{"x":16,"y":0.0037},{"x":16.5,"y":0.0041},{"x":17,"y":0.0028},{"x":17.5,"y":0.0015},{"x":18,"y":0.001},{"x":19,"y":0.0004},{"x":20,"y":0.0001},{"x":20.5,"y":0.0006},{"x":21,"y":0.0004},{"x":22,"y":0.0}],
"i_o": [{"x":1,"y":0.0189},{"x":1.5,"y":0.019},{"x":2,"y":0.0191},{"x":2.5,"y":0.0191},{"x":3,"y":0.0165},{"x":3.5,"y":0.0104},{"x":4,"y":0.0107},{"x":4.5,"y":0.0165},{"x":5,"y":0.0193},{"x":5.5,"y":0.0139},{"x":6,"y":0.0081},{"x":6.5,"y":0.0091},{"x":7,"y":0.0111},{"x":7.5,"y":0.0143},{"x":8,"y":0.0176},{"x":8.5,"y":0.0165},{"x":9,"y":0.0136},{"x":9.5,"y":0.0091},{"x":10,"y":0.0047},{"x":10.5,"y":0.0065},{"x":11,"y":0.0111},{"x":11.5,"y":0.0106},{"x":12,"y":0.0073},{"x":12.5,"y":0.0054},{"x":13,"y":0.005},{"x":13.5,"y":0.0043},{"x":14,"y":0.0032},{"x":14.5,"y":0.0022},{"x":15,"y":0.0019},{"x":15.5,"y":0.0021},{"x":16,"y":0.0034},{"x":16.5,"y":0.0038},{"x":17,"y":0.0026},{"x":17.5,"y":0.0013},{"x":18,"y":0.0009},{"x":19,"y":0.0002},{"x":20,"y":0.0001},{"x":20.5,"y":0.0004},{"x":21,"y":0.0002},{"x":22,"y":0.0}],
"i_r": [{"x":1,"y":0.0015},{"x":2,"y":0.0013},{"x":3,"y":0.0011},{"x":4,"y":0.0007},{"x":4.5,"y":0.001},{"x":5,"y":0.0012},{"x":5.5,"y":0.001},{"x":6,"y":0.0007},{"x":7,"y":0.0004},{"x":8,"y":0.0004},{"x":9,"y":0.0002},{"x":10,"y":0.0},{"x":11,"y":0.0},{"x":12,"y":0.0},{"x":14,"y":0.0},{"x":16,"y":0.0},{"x":18,"y":0.0},{"x":20,"y":0.0},{"x":22,"y":0.0}],
"i_h": [{"x":0,"y":0.0101},{"x":0.5,"y":0.011},{"x":1,"y":0.0121},{"x":1.5,"y":0.0161},{"x":1.8,"y":0.0213},{"x":2.1,"y":0.0267},{"x":2.4,"y":0.0254},{"x":2.7,"y":0.023},{"x":3,"y":0.0206},{"x":3.5,"y":0.0169},{"x":4,"y":0.015},{"x":4.5,"y":0.0139},{"x":5,"y":0.0136},{"x":5.5,"y":0.0147},{"x":6,"y":0.0176},{"x":6.3,"y":0.018},{"x":6.6,"y":0.0165},{"x":7,"y":0.0139},{"x":7.5,"y":0.011},{"x":8,"y":0.0087},{"x":9,"y":0.0058},{"x":10,"y":0.0037},{"x":11,"y":0.0028},{"x":12,"y":0.0022},{"x":13,"y":0.0021},{"x":14,"y":0.0022},{"x":14.5,"y":0.0017},{"x":15,"y":0.001},{"x":16,"y":0.0006},{"x":17,"y":0.0004},{"x":18,"y":0.0002},{"x":20,"y":0.0001},{"x":22,"y":0.0}]
},
"concat": [
{"width": 292, "height": 182, "title": {"text": "(a) Eₗ versus ℓ", "offset": -42},
 "data": {"name": "a"},
 "mark": {"type": "circle", "size": 7, "color": "black", "opacity": 1},
 "encoding": {
  "x": {"field": "l", "type": "quantitative", "scale": {"domain": [-6, 511], "nice": false, "zero": false}, "axis": {"values": [0,100,200,300,400,500], "title": null, "format": "d"}},
  "y": {"field": "E", "type": "quantitative", "scale": {"domain": [-11.5, 15.35], "nice": false, "zero": false}, "axis": {"values": [-10,-5,0,5,10,15], "title": null, "format": "d"}}}},
{"width": 299, "height": 182, "title": {"text": "(b) σ₁", "offset": -40},
 "encoding": {
  "x": {"field": "x", "type": "quantitative", "scale": {"domain": [-0.17, 22.25], "nice": false, "zero": false}, "axis": {"values": [0,2,4,6,8,10,12,14,16,18,20,22], "title": null, "format": "~g"}},
  "y": {"field": "y", "type": "quantitative", "scale": {"domain": [0, 0.302], "nice": false, "zero": false}, "axis": {"values": [0,0.1,0.2,0.3], "title": null, "format": "~g"}}},
 "layer": [
  {"data": {"name": "b_r"}, "mark": {"type": "line", "color": "#ff2828"}, "encoding": {}},
  {"data": {"name": "b_o"}, "mark": {"type": "line", "color": "#ff9c38"}, "encoding": {}},
  {"data": {"name": "b_b"}, "mark": {"type": "line", "color": "#2b2bff"}, "encoding": {}},
  {"data": {"name": "b_h"}, "mark": {"type": "line", "color": "#303030", "strokeDash": [4,3], "interpolate": "monotone"}, "encoding": {}}]},
{"width": 298, "height": 182, "title": {"text": "(c) σ₂", "offset": -37},
 "encoding": {
  "x": {"field": "x", "type": "quantitative", "scale": {"domain": [-0.5, 22.25], "nice": false, "zero": false}, "axis": {"values": [0,2,4,6,8,10,12,14,16,18,20,22], "title": null, "format": "~g"}},
  "y": {"field": "y", "type": "quantitative", "scale": {"domain": [-0.168, 0.222], "nice": false, "zero": false}, "axis": {"values": [-0.1,0,0.1,0.2], "title": null, "format": "~g"}}},
 "layer": [
  {"data": {"values": [{}]}, "mark": {"type": "rule", "color": "#a0a0a0", "strokeWidth": 1.5}, "encoding": {"x": {"datum": -0.5}, "x2": {"datum": 22.25}, "y": {"datum": 0}}},
  {"data": {"name": "c_r"}, "mark": {"type": "line", "color": "#ff2828"}, "encoding": {}},
  {"data": {"name": "c_o"}, "mark": {"type": "line", "color": "#ff9c38"}, "encoding": {}},
  {"data": {"name": "c_b"}, "mark": {"type": "line", "color": "#2b2bff"}, "encoding": {}},
  {"data": {"name": "c_h"}, "mark": {"type": "line", "color": "#303030", "strokeDash": [4,3], "interpolate": "monotone"}, "encoding": {}}]},
{"width": 292, "height": 182, "title": {"text": "(d) ε₁", "offset": -44, "anchor": "end", "dx": -20},
 "encoding": {
  "x": {"field": "x", "type": "quantitative", "scale": {"domain": [0, 22], "nice": false, "zero": false}, "axis": {"values": [0,2,4,6,8,10,12,14,16,18,20,22], "title": null, "format": "~g"}},
  "y": {"field": "y", "type": "quantitative", "scale": {"domain": [0, 2], "nice": false, "zero": false}, "axis": {"values": [0,0.5,1,1.5,2], "title": null, "format": "~g"}}},
 "layer": [
  {"data": {"name": "d_r"}, "mark": {"type": "line", "color": "#ff2828"}, "encoding": {}},
  {"data": {"name": "d_o"}, "mark": {"type": "line", "color": "#ff9c38"}, "encoding": {}},
  {"data": {"name": "d_b"}, "mark": {"type": "line", "color": "#2b2bff"}, "encoding": {}},
  {"data": {"name": "d_h"}, "mark": {"type": "line", "color": "#303030", "strokeDash": [4,3], "interpolate": "monotone"}, "encoding": {}}]},
{"width": 299, "height": 182, "title": {"text": "(e) ε₂", "offset": -38},
 "encoding": {
  "x": {"field": "x", "type": "quantitative", "scale": {"domain": [0, 22.12], "nice": false, "zero": false}, "axis": {"values": [0,2,4,6,8,10,12,14,16,18,20,22], "title": null, "format": "~g"}},
  "y": {"field": "y", "type": "quantitative", "scale": {"domain": [0, 1], "nice": false, "zero": false}, "axis": {"values": [0,0.5,1], "title": null, "format": "~g"}}},
 "layer": [
  {"data": {"name": "e_r"}, "mark": {"type": "line"}, "encoding": {"color": {"datum": "Impurity site", "scale": {"domain": ["Impurity site","NN site","NNN site","Homogen."], "range": ["#ff2828","#ff9c38","#2b2bff","#303030"]}, "legend": {"orient": "top-right", "offset": 17, "padding": 0, "title": null, "labelFont": "Lato, DejaVu Sans", "labelFontSize": 23, "labelAlign": "right", "symbolSize": 0, "symbolStrokeWidth": 0, "symbolOpacity": 0, "labelOffset": 0, "rowPadding": 9, "labelColor": {"expr": "datum.value === 'Impurity site' ? '#ff2828' : datum.value === 'NN site' ? '#ff9c38' : datum.value === 'NNN site' ? '#2b2bff' : '#000000'"}}}}},
  {"data": {"name": "e_o"}, "mark": {"type": "line"}, "encoding": {"color": {"datum": "NN site", "scale": {"domain": ["Impurity site","NN site","NNN site","Homogen."], "range": ["#ff2828","#ff9c38","#2b2bff","#303030"]}}}},
  {"data": {"name": "e_b"}, "mark": {"type": "line"}, "encoding": {"color": {"datum": "NNN site", "scale": {"domain": ["Impurity site","NN site","NNN site","Homogen."], "range": ["#ff2828","#ff9c38","#2b2bff","#303030"]}}}},
  {"data": {"name": "e_h"}, "mark": {"type": "line", "strokeDash": [4,3], "interpolate": "monotone"}, "encoding": {"color": {"datum": "Homogen.", "scale": {"domain": ["Impurity site","NN site","NNN site","Homogen."], "range": ["#ff2828","#ff9c38","#2b2bff","#303030"]}}}}]},
{"width": 298, "height": 182, "title": {"text": "(f) n", "offset": -42, "anchor": "end", "dx": -16},
 "encoding": {
  "x": {"field": "x", "type": "quantitative", "scale": {"domain": [0, 22], "nice": false, "zero": false}, "axis": {"values": [0,2,4,6,8,10,12,14,16,18,20,22], "title": null, "format": "~g"}},
  "y": {"field": "y", "type": "quantitative", "scale": {"domain": [0, 1.5], "nice": false, "zero": false}, "axis": {"values": [0,0.5,1,1.5], "title": null, "format": "~g"}}},
 "layer": [
  {"data": {"name": "f_r"}, "mark": {"type": "line", "color": "#ff2828"}, "encoding": {}},
  {"data": {"name": "f_o"}, "mark": {"type": "line", "color": "#ff9c38"}, "encoding": {}},
  {"data": {"name": "f_b"}, "mark": {"type": "line", "color": "#2b2bff"}, "encoding": {}},
  {"data": {"name": "f_h"}, "mark": {"type": "line", "color": "#303030", "strokeDash": [4,3], "interpolate": "monotone"}, "encoding": {}}]},
{"width": 292, "height": 182, "title": {"text": "(g) κ", "offset": -46},
 "encoding": {
  "x": {"field": "x", "type": "quantitative", "scale": {"domain": [-0.05, 22], "nice": false, "zero": false}, "axis": {"values": [0,2,4,6,8,10,12,14,16,18,20,22], "title": "ℏω (eV)", "format": "~g"}},
  "y": {"field": "y", "type": "quantitative", "scale": {"domain": [0, 0.4], "nice": false, "zero": false}, "axis": {"values": [0,0.1,0.2,0.3,0.4], "title": null, "format": "~g"}}},
 "layer": [
  {"data": {"name": "g_r"}, "mark": {"type": "line", "color": "#ff2828"}, "encoding": {}},
  {"data": {"name": "g_o"}, "mark": {"type": "line", "color": "#ff9c38"}, "encoding": {}},
  {"data": {"name": "g_b"}, "mark": {"type": "line", "color": "#2b2bff"}, "encoding": {}},
  {"data": {"name": "g_h"}, "mark": {"type": "line", "color": "#303030", "strokeDash": [4,3], "interpolate": "monotone"}, "encoding": {}}]},
{"width": 299, "height": 182, "title": {"text": "(h) α", "offset": -44},
 "encoding": {
  "x": {"field": "x", "type": "quantitative", "scale": {"domain": [-0.1, 22.07], "nice": false, "zero": false}, "axis": {"values": [0,2,4,6,8,10,12,14,16,18,20,22], "title": "ℏω (eV)", "format": "~g"}},
  "y": {"field": "y", "type": "quantitative", "scale": {"domain": [0, 1.5], "nice": false, "zero": false}, "axis": {"values": [0.5,1,1.5], "title": null, "format": "~g"}}},
 "layer": [
  {"data": {"name": "h_r"}, "mark": {"type": "line", "color": "#ff2828"}, "encoding": {}},
  {"data": {"name": "h_o"}, "mark": {"type": "line", "color": "#ff9c38"}, "encoding": {}},
  {"data": {"name": "h_b"}, "mark": {"type": "line", "color": "#2b2bff"}, "encoding": {}},
  {"data": {"name": "h_h"}, "mark": {"type": "line", "color": "#303030", "strokeDash": [4,3], "interpolate": "monotone"}, "encoding": {}}]},
{"width": 298, "height": 182, "title": {"text": "(i) R = 1 − T", "offset": -46},
 "encoding": {
  "x": {"field": "x", "type": "quantitative", "scale": {"domain": [-0.07, 22.2], "nice": false, "zero": false}, "axis": {"values": [0,2,4,6,8,10,12,14,16,18,20,22], "title": "ℏω (eV)", "format": "~g"}},
  "y": {"field": "y", "type": "quantitative", "scale": {"domain": [0, 0.04], "nice": false, "zero": false}, "axis": {"values": [0,0.01,0.02,0.03,0.04], "title": null, "format": "~g"}}},
 "layer": [
  {"data": {"name": "i_r"}, "mark": {"type": "line", "color": "#ff2828"}, "encoding": {}},
  {"data": {"name": "i_o"}, "mark": {"type": "line", "color": "#ff9c38"}, "encoding": {}},
  {"data": {"name": "i_b"}, "mark": {"type": "line", "color": "#2b2bff"}, "encoding": {}},
  {"data": {"name": "i_h"}, "mark": {"type": "line", "color": "#303030", "strokeDash": [4,3], "interpolate": "monotone"}, "encoding": {}}]}
]
}
